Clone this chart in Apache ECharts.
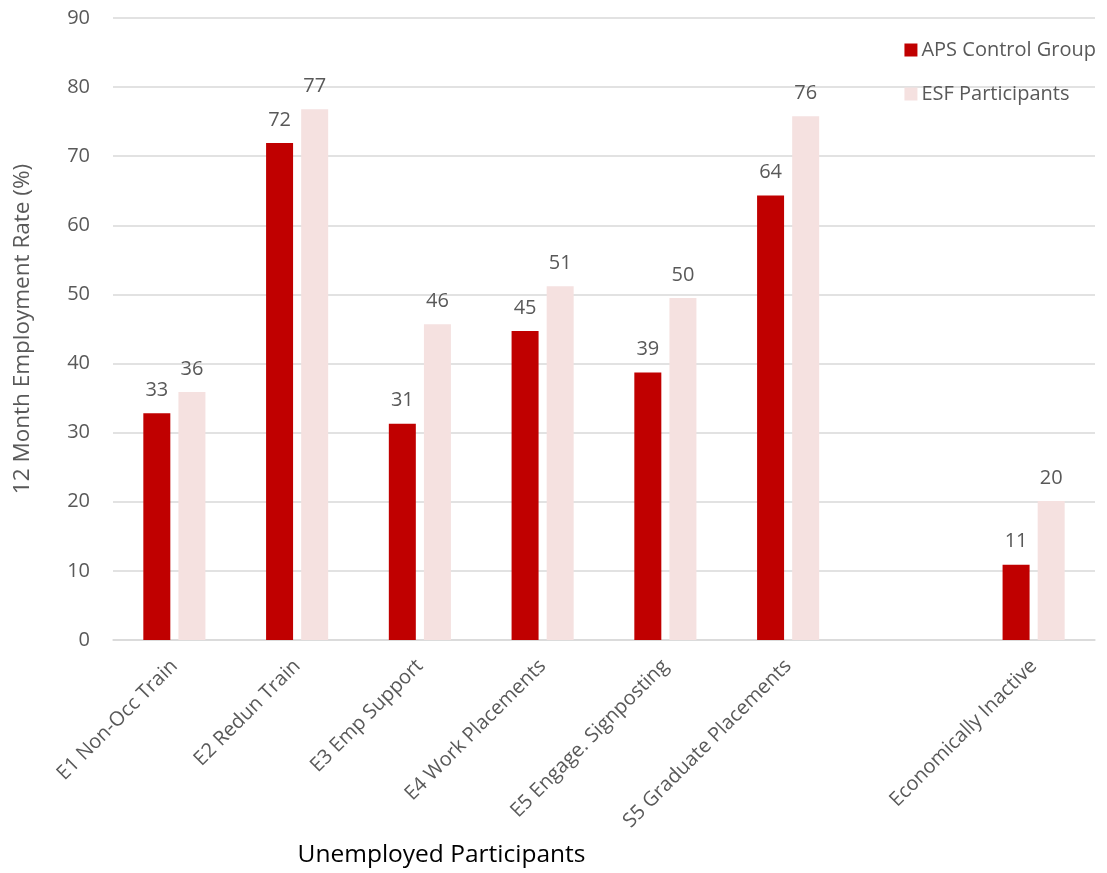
<!DOCTYPE html>
<html>
<head>
<meta charset="utf-8">
<style>
  html, body { margin: 0; padding: 0; background: #ffffff; }
  #chart { width: 1107px; height: 873px; }
</style>
<script src="https://cdn.jsdelivr.net/npm/echarts@6/dist/echarts.min.js"></script>
</head>
<body>
<div id="chart"></div>
<script>
// Programme categories; the blank entry separates unemployed from inactive groups
const categories = [
  'E1 Non-Occ Train',
  'E2 Redun Train',
  'E3 Emp Support',
  'E4 Work Placements',
  'E5 Engage. Signposting',
  'S5 Graduate Placements',
  '',
  'Economically Inactive'
];

// 12 month employment rate (%)
const apsControl = [32.8, 71.9, 31.3, 44.7, 38.7, 64.3, null, 10.9];
const esfParticipants = [35.9, 76.8, 45.7, 51.2, 49.5, 75.8, null, 20.1];

const yTicks = { min: 0, max: 90, interval: 10 };

const FONT = '"Open Sans", "Noto Sans", sans-serif';
const TEXT = '#595959';

const chart = echarts.init(document.getElementById('chart'), null, { renderer: 'canvas' });

const valueLabel = {
  show: true,
  position: 'top',
  distance: 13,
  color: TEXT,
  fontFamily: FONT,
  fontSize: 20,
  formatter: p => (p.value == null ? '' : Math.round(p.value))
};

chart.setOption({
  animation: false,
  backgroundColor: '#ffffff',
  textStyle: { fontFamily: FONT },
  grid: { left: 113, right: 12, top: 18, bottom: 232, containLabel: false },
  legend: {
    orient: 'vertical',
    right: 6,
    top: 35,
    itemWidth: 13,
    itemHeight: 13,
    itemGap: 24,
    icon: 'rect',
    textStyle: { color: TEXT, fontFamily: FONT, fontSize: 20, padding: [0, 0, 0, -1] },
    data: ['APS Control Group', 'ESF Participants']
  },
  xAxis: {
    type: 'category',
    data: categories,
    axisTick: { show: false },
    axisLine: { show: true, lineStyle: { color: '#D9D9D9', width: 1.5 } },
    axisLabel: {
      interval: 0,
      rotate: 45,
      margin: 23,
      color: TEXT,
      fontFamily: FONT,
      fontSize: 20
    },
    name: 'Unemployed Participants',
    nameLocation: 'middle',
    nameGap: 203,
    nameTextStyle: { color: '#000000', fontFamily: FONT, fontSize: 24.5, padding: [0, 0, 0, -325] }
  },
  yAxis: {
    type: 'value',
    min: yTicks.min,
    max: yTicks.max,
    interval: yTicks.interval,
    axisLine: { show: false },
    axisTick: { show: false },
    splitLine: { lineStyle: { color: '#D9D9D9', width: 1.5 } },
    axisLabel: { color: TEXT, fontFamily: FONT, fontSize: 20, margin: 23 },
    name: '12 Month Employment Rate (%)',
    nameLocation: 'middle',
    nameGap: 79,
    nameTextStyle: { color: TEXT, fontFamily: FONT, fontSize: 22.5 }
  },
  series: [
    {
      name: 'APS Control Group',
      type: 'bar',
      data: apsControl,
      barWidth: 27,
      barGap: '30%',
      itemStyle: { color: '#C00000' },
      label: valueLabel
    },
    {
      name: 'ESF Participants',
      type: 'bar',
      data: esfParticipants,
      barWidth: 27,
      itemStyle: { color: '#F5E1E0' },
      label: valueLabel
    }
  ]
});
</script>
</body>
</html>
